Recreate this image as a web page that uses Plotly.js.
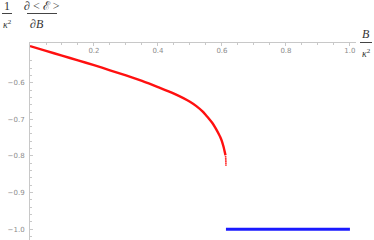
<!DOCTYPE html>
<html>
<head>
<meta charset="utf-8">
<script src="https://cdn.plot.ly/plotly-3.0.1.min.js"></script>
<style>html,body{margin:0;padding:0;background:#fff;}#plot{width:374px;height:240px;}</style>
</head>
<body>
<div id="plot"></div>
<script>
// Red branch (solid part)
const redB = [0, 0.05, 0.1, 0.15, 0.2, 0.25, 0.3, 0.35, 0.4, 0.45, 0.5, 0.52, 0.54, 0.55, 0.56, 0.57, 0.58, 0.59, 0.595, 0.60, 0.605, 0.609, 0.611];
const redY = [-0.500, -0.513, -0.526, -0.539, -0.552, -0.566, -0.580, -0.595, -0.612, -0.630, -0.652, -0.664, -0.679, -0.689, -0.699, -0.710, -0.724, -0.740, -0.749, -0.760, -0.775, -0.790, -0.798];
// Red branch (sparsely sampled tail)
const tailB = [0.6115, 0.6118, 0.612, 0.6122, 0.6124, 0.6125];
const tailY = [-0.802, -0.807, -0.811, -0.815, -0.820, -0.825];
// Blue branch
const blueB = [0.6125, 1.0];
const blueY = [-1.0, -1.0];
// Tick labels
const xTicks = [0.2, 0.4, 0.6, 0.8, 1.0];
const yTicks = [-0.6, -0.7, -0.8, -0.9, -1.0];

const axisColor = '#c8c8c8';
const tickFont = {family: 'DejaVu Sans, sans-serif', size: 7, color: '#8c8c8c'};

const traces = [
  {x: redB, y: redY, mode: 'lines', line: {color: '#ff1010', width: 2.4, shape: 'spline', smoothing: 0.8}, hoverinfo: 'skip'},
  {x: tailB, y: tailY, mode: 'markers', marker: {color: '#ff3030', size: 1.8}, hoverinfo: 'skip'},
  {x: blueB, y: blueY, mode: 'lines', line: {color: '#1a1aff', width: 3}, hoverinfo: 'skip'}
];

// plot area in pixels: left 30, right 356, top 43, bottom 240
const L = 30, R = 18, T = 43, B = 0;
const W = 374 - L - R, H = 240 - T - B;
const px = v => (v - L) / W;          // pixel x -> paper x
const py = v => (240 - B - v) / H;    // pixel y -> paper y

const serif = 'Liberation Serif, Times New Roman, serif';
const labelColor = '#333';
const layout = {
  width: 374, height: 240,
  margin: {l: L, r: R, t: T, b: B, pad: 0},
  paper_bgcolor: '#fff', plot_bgcolor: '#fff',
  showlegend: false,
  xaxis: {
    range: [0, 1.019], side: 'top', showgrid: false, zeroline: false,
    showline: true, linecolor: axisColor, linewidth: 1,
    tickvals: xTicks, ticktext: xTicks.map(v => v.toFixed(1)),
    ticks: 'inside', ticklen: 3, tickcolor: axisColor,
    ticklabelposition: 'inside', ticklabelstandoff: 1,
    tickfont: tickFont,
    minor: {dtick: 0.05, tick0: 0, ticks: 'inside', ticklen: 2, tickcolor: axisColor}
  },
  yaxis: {
    range: [-1.0297, -0.4915], showgrid: false, zeroline: false,
    showline: true, linecolor: axisColor, linewidth: 1,
    tickvals: yTicks, ticktext: yTicks.map(v => '\u2212' + Math.abs(v).toFixed(1)),
    ticks: 'inside', ticklen: 3, tickcolor: axisColor,
    ticklabelstandoff: 3,
    tickfont: tickFont,
    minor: {dtick: 0.02, tick0: 0, ticks: 'inside', ticklen: 2, tickcolor: axisColor}
  },
  annotations: [
    {text: '1', xref: 'paper', yref: 'paper', x: px(7), y: py(6), showarrow: false, xanchor: 'center', yanchor: 'middle', font: {family: serif, size: 12, color: labelColor}},
    {text: '<i>κ</i><sup>2</sup>', xref: 'paper', yref: 'paper', x: px(7), y: py(24), showarrow: false, xanchor: 'center', yanchor: 'middle', font: {family: serif, size: 10, color: labelColor}},
    {text: '∂ < <span style="font-family:DejaVu Serif">ℰ</span> >', xref: 'paper', yref: 'paper', x: px(42), y: py(6), showarrow: false, xanchor: 'center', yanchor: 'middle', font: {family: serif, size: 12, color: labelColor}},
    {text: '∂<i>B</i>', xref: 'paper', yref: 'paper', x: px(37), y: py(24), showarrow: false, xanchor: 'center', yanchor: 'middle', font: {family: serif, size: 12, color: labelColor}},
    {text: '<i>B</i>', xref: 'paper', yref: 'paper', x: px(366), y: py(34), showarrow: false, xanchor: 'center', yanchor: 'middle', font: {family: serif, size: 12, color: labelColor}},
    {text: '<i>κ</i><sup>2</sup>', xref: 'paper', yref: 'paper', x: px(366), y: py(53), showarrow: false, xanchor: 'center', yanchor: 'middle', font: {family: serif, size: 10, color: labelColor}}
  ],
  shapes: [
    {type: 'line', xref: 'paper', yref: 'paper', x0: px(2), x1: px(12), y0: py(13.5), y1: py(13.5), line: {color: '#444', width: 1}},
    {type: 'line', xref: 'paper', yref: 'paper', x0: px(27), x1: px(57), y0: py(13.5), y1: py(13.5), line: {color: '#444', width: 1}},
    {type: 'line', xref: 'paper', yref: 'paper', x0: px(360), x1: px(372), y0: py(42.5), y1: py(42.5), line: {color: '#444', width: 1}}
  ]
};

Plotly.newPlot('plot', traces, layout, {staticPlot: true, displayModeBar: false});
</script>
</body>
</html>
